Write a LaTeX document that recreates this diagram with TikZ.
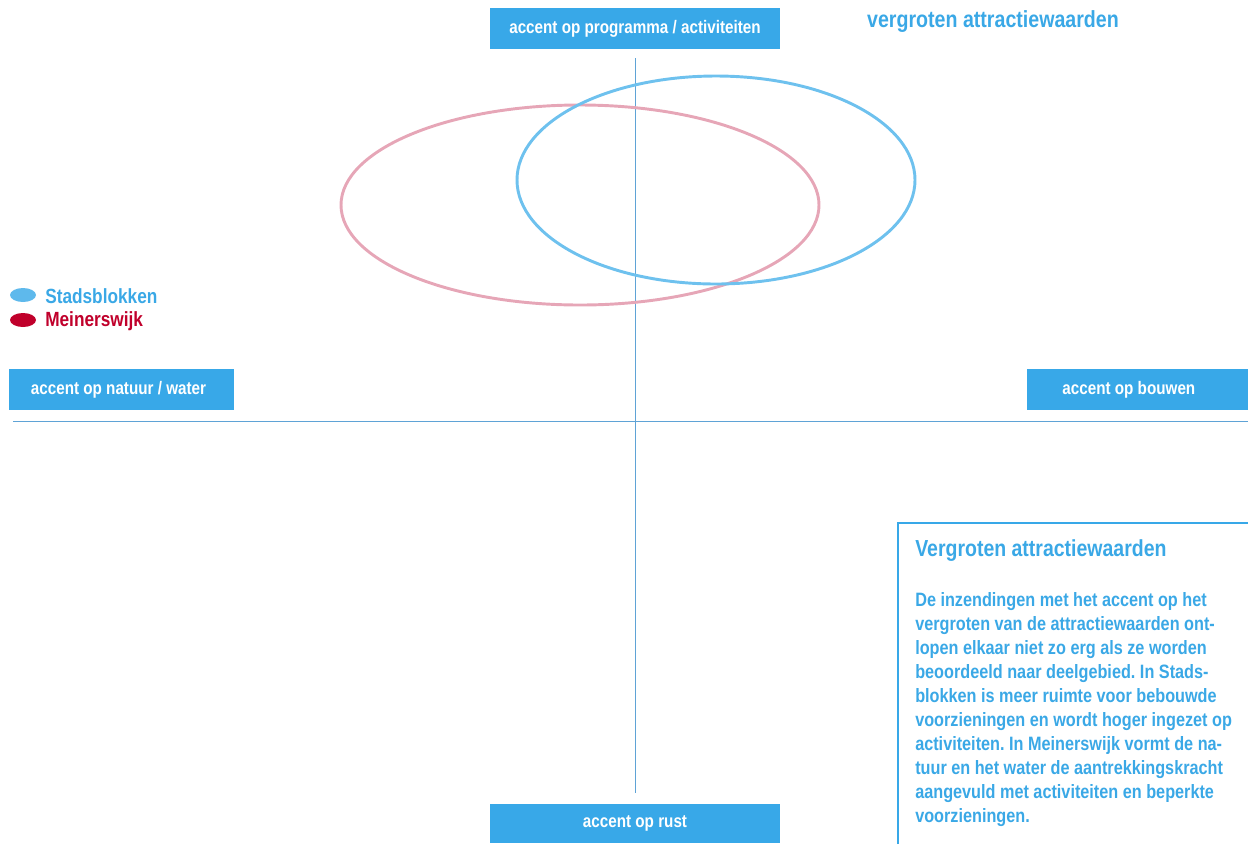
\documentclass[tikz,border=0pt]{standalone}
\usepackage{fontspec}
\setmainfont{Liberation Sans Bold}[FakeStretch=0.84]
\usepackage{tikz}
\usetikzlibrary{positioning}
\definecolor{mBlue}{HTML}{38A8E8}
\definecolor{mTextBlue}{HTML}{3AA8E6}
\definecolor{mLineBlue}{HTML}{5FA3D6}
\definecolor{mSky}{HTML}{6EC1EE}
\definecolor{mPink}{HTML}{E6A6B7}
\definecolor{mRed}{HTML}{C0002B}
\frenchspacing

\begin{document}
\begin{tikzpicture}[x=0.75pt, y=-0.75pt,
    labelbox/.style={fill=mBlue, text=white, inner sep=0pt, minimum height=30.75pt,
      font=\fontsize{13.6}{15}\selectfont},
    axis/.style={mLineBlue, line width=0.75pt},
    legendtext/.style={anchor=west, inner sep=0pt, font=\fontsize{15.4}{17}\selectfont}]
    \useasboundingbox (0,0) rectangle (1248,844);
    % axes
    \coordinate (axtop) at (635,58);
    \coordinate (axbot) at (635,793);
    \coordinate (axleft) at (13,421);
    \coordinate (axright) at (1248,421);
    \draw[axis] (axtop) -- (axbot);
    \draw[axis] (axleft) -- (axright);
    % axis labels
    \node[labelbox, minimum width=217.5pt] (prog) at (635,28.5) {\raisebox{-1.2pt}{accent op programma / activiteiten}};
    \node[labelbox, minimum width=168.75pt] (natuur) at (121.5,389.5) {\hspace*{-4.5pt}\raisebox{-1.2pt}{accent op natuur / water}};
    \node[labelbox, minimum width=165.75pt] (bouw) at (1137.5,389.5) {\hspace*{-13pt}\raisebox{-1.2pt}{accent op bouwen}};
    \node[labelbox, minimum width=217.5pt, minimum height=29.25pt] (rust) at (635,823.5) {\raisebox{-3pt}{accent op rust}};
    % title
    \node[text=mTextBlue, font=\fontsize{17.5}{19}\selectfont] (titel) at (993,21.5) {vergroten attractiewaarden};
    % ellipses
    \draw[mPink, line width=2.2pt] (580,205) ellipse [x radius=239, y radius=100];
    \draw[mSky, line width=2.2pt] (716,180) ellipse [x radius=199, y radius=104];
    % legend
    \fill[mSky!70!mBlue] (23,295) ellipse [x radius=13, y radius=7];
    \fill[mRed] (23,320) ellipse [x radius=13, y radius=7];
    \node[legendtext, text=mTextBlue] (stads) at (45,296) {Stadsblokken};
    \node[legendtext, text=mRed] (meiners) at (45,321) {Meinerswijk};
    % text box
    \coordinate (boxbl) at (898,844);
    \coordinate (boxtl) at (898,523);
    \coordinate (boxtr) at (1248,523);
    \draw[mBlue, line width=1.5pt] (boxbl) -- (boxtl) -- (boxtr);
    \node[anchor=west, inner sep=0pt, text=mTextBlue, font=\fontsize{17.4}{19}\selectfont] (kop) at (915,551) {Vergroten attractiewaarden};
    \node[anchor=north west, inner sep=0pt, align=left, text=mTextBlue,
      font=\fontsize{14.5}{18}\selectfont] (tekst) at (915,592) {%
      De inzendingen met het accent op het\\
      vergroten van de attractiewaarden ont-\\
      lopen elkaar niet zo erg als ze worden\\
      beoordeeld naar deelgebied. In Stads-\\
      blokken is meer ruimte voor bebouwde\\
      voorzieningen en wordt hoger ingezet op\\
      activiteiten. In Meinerswijk vormt de na-\\
      tuur en het water de aantrekkingskracht\\
      aangevuld met activiteiten en beperkte\\
      voorzieningen.};
\end{tikzpicture}
\end{document}
